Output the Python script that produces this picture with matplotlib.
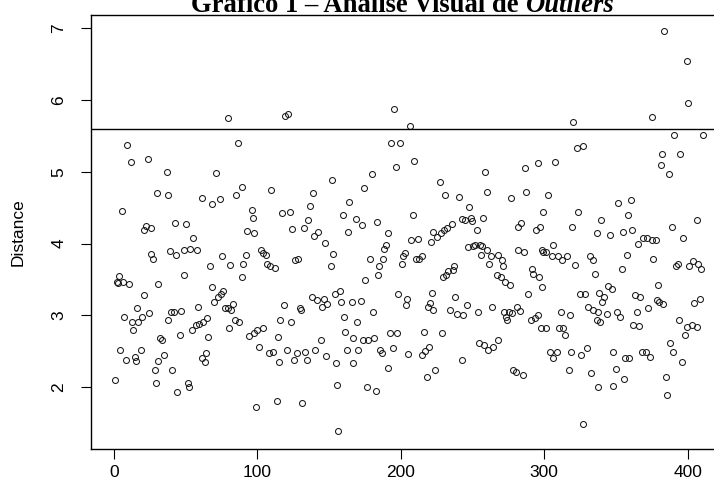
import matplotlib
matplotlib.use("Agg")
import matplotlib.pyplot as plt

W, H, DPI = 714, 490, 100

index = [1, 2.0, 3.3, 3.7, 4.4, 5.8, 6.7, 7.2, 8.6, 9.5, 10.7, 11.8, 12.5, 13.7, 14.8, 15.5, 16.5, 17.2,
         18.8, 19.5, 21.1, 21.3, 22.5, 24.1, 24.8, 25.8, 26, 27.6, 28.8, 29.5, 30.4, 30.6, 31.1, 32.3,
         33.9, 35.3, 36.9, 37.6, 38.1, 39.2, 39.9, 40.9, 42.3, 42.7, 43.2, 43.9, 46.2, 46.9, 49, 49.2,
         50.2, 51.8, 52.6, 53.2, 54.3, 55.5, 57.1, 57.8, 59, 59.5, 61.3, 61.8, 62, 63.6, 64.1, 65.2,
         66, 67.1, 68.3, 68.7,
         69.9, 71.3, 72.9, 74.1, 74.8, 75.2, 76.4, 77.6, 79.9, 79.4, 80.4, 81, 81.6, 82.9, 84.5, 85.2,
         86.8, 87.5, 89.2, 89.6, 90.3, 92.2, 93.1, 94.5, 96.1, 96.8, 97.5, 98, 99, 99.6, 101.5, 102.4,
         103.8, 104.3, 106.1, 106.8,
         108.2, 108.9, 109.6, 111.2, 112.4, 114.2, 113.5, 115.2, 115.9, 117, 119.3, 118.6, 120.5, 121.2,
         122.8, 123.5, 124.4, 126.3, 125.6, 127.5, 128.6, 129.8, 130.5, 131.4, 132.8, 133.3, 134.4,
         135.6, 136.8, 139.1, 138.4, 139.8, 140.2, 141.4, 142.6,
         145, 144.3, 147.3, 146.6, 148.9, 148.2, 151.2, 151.9, 152.6, 154.3, 155, 155.7, 156.6, 157.7,
         158.2, 160, 160.5, 161.2, 163.5, 164.2, 162.8, 165.9, 166.6, 167, 168.9, 169.8, 170.5, 172.1,
         172.8, 173.5, 174.7, 175.2, 176.3, 177.5, 178.6, 179.8, 181, 181.4, 182.8, 183.8, 184.5,
         185.2, 185.6, 187.2, 188.6, 188, 189.6, 190.9, 191.4, 192.6, 193.2, 194.9, 195.6, 196.5, 197.2,
         198.4, 199.5, 200.7, 201.8, 203, 203.6, 204.2, 205, 206.5, 207.2, 208.8, 209.5, 210.4, 211.8,
         212.5, 214.6, 215.1, 216.5, 217, 218.1, 218.8, 219.5, 220.4, 221,
         222.3, 221.5, 222.7, 223.9, 225, 227.4, 227.8, 228.5, 229.7, 230.2, 230.9, 231.5, 232, 233.2,
         234.3, 235.5, 236.2, 237.1, 237.8, 239.4, 240.8, 242.5, 242.8, 243.6, 244.6, 245.9, 247.1,
         247.8, 248.7, 249.8, 250.6, 251.8, 252.9, 254.1, 254.6, 255.2, 256, 257.6, 257, 258.2, 258.7,
         259.9, 260, 260.9, 261.5, 262.8, 263.8, 264.5, 266.8, 267.5, 268, 269.8, 270.3, 271.5, 272.2,
         273, 273.6, 274.3, 275.4, 276.1, 276.8, 277.6, 278.4, 280.8, 280.2, 281.5, 281.9, 283.1, 283.8,
         286.1, 285.5, 286.6, 287, 288.9, 291.2, 290.6, 292.4, 293.5, 294, 295.4, 295.9, 297, 296.5, 298.2,
         298.8, 297.8, 299.5, 299.4, 301.3, 301, 302.9, 304.1, 305.2, 305.8, 306.4, 307.6, 308.7, 309.9,
         310.5, 311.5, 312.2, 313.4, 314.5, 315.7, 317.5, 318, 318.6, 320.3, 319.6, 321.5, 322.7, 323.8,
         325, 325.6, 326.8, 327.3, 328.5, 329.6, 330.8, 331.9, 332.5, 334.3, 333.7, 335.4,
         336.6, 336.6, 337.7, 338.3, 337.7, 338.9, 339.6, 340.5, 341.9, 343.5, 344.2, 345.9, 347, 347.6,
         348.2, 349.8, 350.5, 351.7, 352.8, 354, 355.1, 355.7, 356.3, 357.5, 358.2, 359, 360.5, 361.4,
         362.1, 363.3, 364.4, 365.6, 366.2, 366.8, 369.1, 368.5, 371.4, 370.8, 372.6, 373.7, 375.4,
         374.9, 375.6, 377.9, 378.3, 379.5, 380.2, 381.1, 381.8, 382.5, 383.5, 384.8, 385.8, 387.2, 387.6,
         388.8, 389.9, 390.4, 391.8, 393.4, 394, 394.6, 395.8, 396.9, 398.1, 399.3, 399.7, 400.4, 401.1,
         402.7, 403.9, 404.5, 406.2, 406.7, 407.4, 408.5, 409, 410.4]

distance = [2.10, 3.46, 3.45, 3.55, 2.52, 4.45, 3.47, 2.98, 2.37, 5.38, 3.44, 5.14, 2.90, 2.79, 2.42, 2.36, 3.10, 2.91,
            2.52, 2.98, 4.19, 3.28, 4.25, 5.18, 3.03, 4.21, 3.85, 3.78, 2.24, 2.05, 4.70, 3.44, 2.36, 2.68,
            2.65, 2.45, 5.00, 4.67, 2.93, 3.90, 3.05, 2.24, 3.05, 4.28, 3.84, 1.93, 2.72, 3.06, 3.91, 3.56,
            4.27, 2.05, 2.00, 3.93, 2.79, 4.07, 2.86, 3.91, 3.12, 2.88, 4.63, 2.40, 2.91, 2.35, 2.47, 2.96,
            2.70, 3.69, 4.55, 3.40,
            3.19, 4.98, 3.25, 4.62, 3.29, 3.83, 3.34, 3.10, 5.75, 3.10, 2.82, 3.70, 3.07, 3.16, 2.93, 4.68,
            5.40, 2.90, 4.79, 3.54, 3.72, 3.84, 4.18, 2.71, 4.47, 4.35, 4.14, 2.75, 1.72, 2.79, 2.56, 3.91,
            2.82, 3.87, 3.84, 3.72,
            2.48, 3.68, 4.74, 2.49, 3.66, 2.70, 1.80, 2.35, 2.94, 4.43, 5.78, 3.14, 2.52, 5.81,
            4.44, 2.90, 4.20, 3.77, 2.38, 2.47, 3.78, 3.10, 3.07, 1.78, 4.22, 2.49, 2.38,
            4.33, 4.52, 4.71, 3.26, 4.11, 2.52, 3.21, 4.16,
            3.12, 2.65, 4.01, 3.22, 3.16, 2.43, 3.68, 4.88, 3.86, 3.30, 2.33, 2.03, 1.38, 3.34,
            3.19, 4.40, 2.98, 2.77, 4.16, 4.58, 2.52, 3.19, 2.69, 2.34, 4.34, 2.90, 2.52, 3.20,
            4.26, 2.66, 4.78, 3.49, 2.00, 2.66, 3.78, 4.97, 3.04, 2.68, 1.94, 4.30, 3.56,
            3.69, 2.52, 2.47, 3.92, 3.78, 3.98, 4.15, 2.26, 2.75, 5.40, 2.54, 5.87, 5.07, 2.75,
            3.30, 5.40, 3.72, 3.82, 3.87, 3.14, 3.23, 2.46, 5.64, 4.05, 4.40, 5.15, 3.79, 4.06,
            3.79, 2.44, 3.82, 2.77, 2.50, 2.14, 3.12, 2.56, 3.17, 4.02,
            4.16, 3.31, 3.07, 2.24, 4.09, 4.86, 4.15, 2.75, 3.53, 4.19, 4.67, 3.56, 4.21, 3.61,
            3.07, 4.27, 3.63, 3.68, 3.26, 3.02, 4.65, 2.38, 4.34, 3.00, 4.33, 3.14, 3.95,
            4.51, 4.35, 4.32, 3.96, 3.98, 4.19, 3.05, 2.61, 3.98, 3.84, 4.35, 3.96, 2.58, 4.99,
            4.72, 3.91, 2.52, 3.72, 3.82, 3.12, 2.56, 3.56, 3.84, 2.65, 3.54, 3.77, 3.68, 3.05,
            3.47, 2.98, 2.94, 3.05, 3.42, 4.63, 3.03, 2.24, 3.11, 2.21, 4.23, 3.91, 3.06, 4.29,
            3.88, 2.17, 5.05, 4.72, 3.30, 3.65, 2.93, 3.58, 2.96, 4.19, 5.12, 3.00, 4.23, 3.54, 3.91,
            3.40, 2.82, 3.88, 4.44, 2.82, 3.88, 4.67, 2.49, 3.82, 2.40, 3.98, 5.14, 2.49, 3.82,
            2.82, 3.05, 3.77, 2.82, 2.72, 3.83, 2.24, 3.00, 2.49, 5.70, 4.23, 3.70, 5.33, 4.44,
            3.30, 2.45, 5.36, 1.48, 3.30, 2.54, 3.12, 3.82, 2.19, 3.77, 3.07, 3.58,
            4.15, 2.94, 3.05, 3.31, 2.00, 2.91, 4.33, 3.19, 3.26, 3.02, 3.41, 4.12, 3.36, 2.49,
            2.01, 2.25, 3.05, 4.56, 2.98, 3.65, 4.16, 2.11, 2.40, 3.84, 4.40, 2.40, 4.61, 4.19,
            2.86, 3.28, 3.05, 4.00, 2.85, 3.26, 4.08, 2.49, 4.07, 2.49, 3.10, 2.42, 5.77,
            4.05, 3.79, 4.05, 3.21, 3.42, 3.19, 5.09, 5.25, 3.16, 6.96, 2.14, 1.89, 4.97, 2.61,
            4.23, 2.49, 5.51, 3.68, 3.72, 2.93, 5.25, 2.35, 4.08, 2.72, 2.84, 6.55, 5.96, 3.68,
            2.86, 3.75, 3.17, 2.84, 4.33, 3.71, 3.23, 3.64, 5.51]

cutoff = 5.60
x_ticks = [0, 100, 200, 300, 400]
y_ticks = [2, 3, 4, 5, 6, 7]
title_main = "Gráfico 1 – Análise Visual de "
title_ital = "Outliers"
y_label = "Distance"

fig = plt.figure(figsize=(W / DPI, H / DPI), dpi=DPI)
fig.patch.set_facecolor("white")

# axes box in pixels (right side runs past the image edge, as in the reference)
L, R, T, B = 90.7, 750.0, 15.0, 449.0
ax = fig.add_axes([L / W, 1 - B / H, (R - L) / W, (B - T) / H])
x_zero_px, px_per_unit = 113.7, 1.435
ax.set_xlim((L - x_zero_px) / px_per_unit, (R - x_zero_px) / px_per_unit)
ax.set_ylim(1.136, 7.185)

ax.plot(index, distance, linestyle="none", marker="o", markersize=4.3,
        markerfacecolor="none", markeredgecolor="#1a1a1a", markeredgewidth=0.75)
ax.axhline(cutoff, color="black", linewidth=1.0)

for s in ax.spines.values():
    s.set_linewidth(1.0)
    s.set_color("black")

lab_fs = 12.5
ax.set_xticks(x_ticks)
ax.set_yticks(y_ticks)
ax.set_xticklabels([str(v) for v in x_ticks], family="Liberation Sans", fontsize=lab_fs)
ax.set_yticklabels([str(v) for v in y_ticks], family="Liberation Sans", fontsize=lab_fs,
                   rotation=90, va="center")
ax.tick_params(axis="both", direction="out", length=7, width=0.8, color="black")
ax.tick_params(axis="x", pad=4.5)
ax.tick_params(axis="y", pad=10.5)

fig.text(18.5 / W, 1 - 232 / H, y_label, rotation=90, ha="center", va="center",
         family="Liberation Sans", fontsize=lab_fs)

# title (partially cut by the top edge, as in the reference)
fs = 16
t1 = fig.text(0, 1 - 11.5 / H, title_main, family="Liberation Serif", weight="bold",
              fontsize=fs, ha="left", va="baseline")
t2 = fig.text(0, 1 - 11.5 / H, title_ital, family="Liberation Serif", weight="bold",
              style="italic", fontsize=fs, ha="left", va="baseline")
fig.canvas.draw()
r = fig.canvas.get_renderer()
w_total = t1.get_window_extent(r).width + t2.get_window_extent(r).width
fs = fs * 425.0 / w_total
t1.set_fontsize(fs)
t2.set_fontsize(fs)
fig.canvas.draw()
w1 = t1.get_window_extent(r).width
w2 = t2.get_window_extent(r).width
start = 402.5 - (w1 + w2) / 2
t1.set_x(start / W)
t2.set_x((start + w1) / W)

fig.savefig("out.png", dpi=DPI)
